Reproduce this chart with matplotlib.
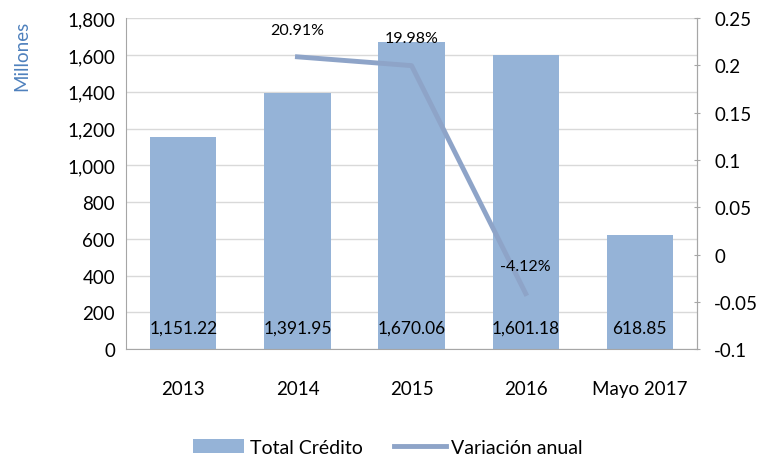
import matplotlib.pyplot as plt

plt.rcParams['font.family'] = ['Lato', 'DejaVu Sans']

# Datos
categorias = ['2013', '2014', '2015', '2016', 'Mayo 2017']
total_credito = [1151.22, 1391.95, 1670.06, 1601.18, 618.85]
etiquetas_credito = ['1,151.22', '1,391.95', '1,670.06', '1,601.18', '618.85']
var_x = [1, 2, 3]
variacion = [0.2091, 0.1998, -0.0412]
etiquetas_var = ['20.91%', '19.98%', '-4.12%']

color_barra = '#95B3D7'
color_linea = '#8EA4C8'
gris = '#A6A6A6'

fig = plt.figure(figsize=(7.65, 4.56), dpi=100)
ax = fig.add_axes([0.165, 0.232, 0.746, 0.726])
ax2 = ax.twinx()

x = range(len(categorias))
ax.bar(x, total_credito, width=0.58, color=color_barra, zorder=2, label='Total Crédito')
ax.set_ylim(0, 1800)
ax.set_yticks(range(0, 1801, 200))
ax.set_yticklabels(['{:,}'.format(v) for v in range(0, 1801, 200)])
ax.set_xlim(-0.5, 4.5)
ax.set_xticks(list(x))
ax.set_xticklabels(categorias)
ax.grid(axis='y', color='#D9D9D9', linewidth=1, zorder=0)
ax.set_axisbelow(True)
ax.tick_params(axis='both', length=0, labelsize=13.5, pad=8)
ax.tick_params(axis='x', pad=22)
ax.spines['top'].set_visible(False)
for s in ['left', 'bottom', 'right']:
    ax.spines[s].set_color(gris)
ax.set_ylabel('Millones', color='#4F81BD', fontsize=13.5)
ax.yaxis.set_label_coords(-0.168, 0.888)

for i, lab in enumerate(etiquetas_credito):
    ax.text(i, 115, lab, ha='center', va='center', fontsize=12.5, color='black', zorder=3)

ax2.plot(var_x, variacion, color=color_linea, linewidth=3.5, label='Variación anual', zorder=3)
ax2.set_ylim(-0.1, 0.25)
ax2.set_yticks([-0.1, -0.05, 0, 0.05, 0.1, 0.15, 0.2, 0.25])
ax2.set_yticklabels(['-0.1', '-0.05', '0', '0.05', '0.1', '0.15', '0.2', '0.25'])
ax2.tick_params(axis='y', labelsize=13.5, length=5, direction='inout', color=gris, pad=10)
for s in ['top', 'left', 'bottom']:
    ax2.spines[s].set_visible(False)
ax2.spines['right'].set_color(gris)

for xi, yi, lab in zip(var_x, variacion, etiquetas_var):
    ax2.text(xi, yi + 0.0215, lab, ha='center', va='bottom', fontsize=11.5)

h1, l1 = ax.get_legend_handles_labels()
h2, l2 = ax2.get_legend_handles_labels()
fig.legend(h1 + h2, l1 + l2, loc='lower center', bbox_to_anchor=(0.507, -0.04),
           ncol=2, frameon=False, fontsize=14, handlelength=2.65, columnspacing=1.6,
           handletextpad=0.3, handleheight=0.7)

plt.savefig('out.png', dpi=100)
